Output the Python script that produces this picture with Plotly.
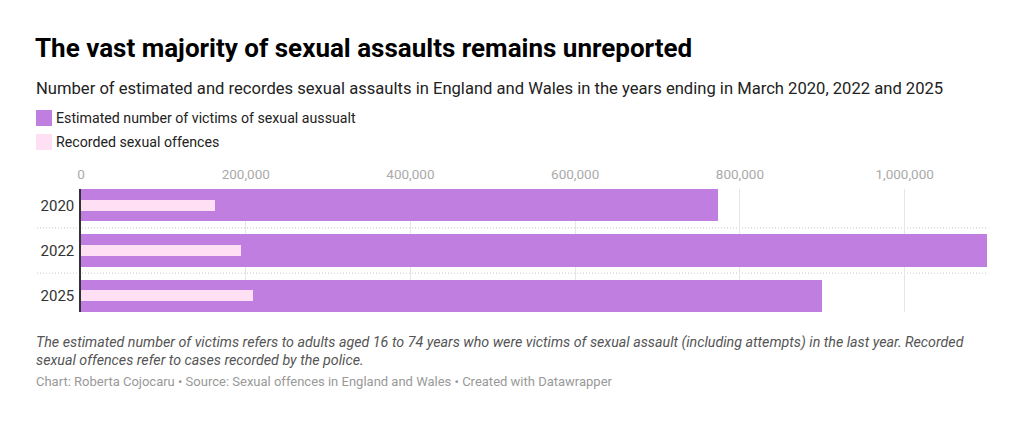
import plotly.graph_objects as go

years = ["2020", "2022", "2025"]
estimated = [773000, 1100000, 900000]
recorded = [163000, 194000, 209000]
series_names = ["Estimated number of victims of sexual aussualt", "Recorded sexual offences"]
x_ticks = [0, 200000, 400000, 600000, 800000, 1000000]

title = "The vast majority of sexual assaults remains unreported"
subtitle = "Number of estimated and recordes sexual assaults in England and Wales in the years ending in March 2020, 2022 and 2025"
note1 = "The estimated number of victims refers to adults aged 16 to 74 years who were victims of sexual assault (including attempts) in the last year. Recorded"
note2 = "sexual offences refer to cases recorded by the police."
source = "Chart: Roberta Cojocaru • Source: Sexual offences in England and Wales • Created with Datawrapper"

PURPLE = "#bf7ee0"
PINK = "#ffdff3"
FONT = "Roboto"

OFF = 8  # page body margin
W, H = 1024 - 2 * OFF, 426 - 2 * OFF
L, R, T, B = 81 - OFF, 987 - OFF, 189 - OFF, 312 - OFF


def px(x):
    return (x - OFF - L) / (R - L)


def py(y):
    return (B - (y - OFF)) / (B - T)


fig = go.Figure()
fig.add_trace(go.Bar(y=years, x=estimated, orientation="h", name=series_names[0],
                     marker=dict(color=PURPLE, line=dict(width=0)), width=0.71,
                     hoverinfo="x+y"))
fig.add_trace(go.Bar(y=years, x=recorded, orientation="h", name=series_names[1],
                     marker=dict(color=PINK, line=dict(width=0)), width=0.25,
                     hoverinfo="x+y"))

shapes = []
for yv in [0.5, 1.5]:
    shapes.append(dict(type="line", xref="paper", yref="y", x0=px(37), x1=1, y0=yv, y1=yv,
                       line=dict(color="#c8c8c8", width=1, dash="1px,2px"), layer="below"))

TX = 34  # text left edge (accounting for annotation padding)
annotations = [
    dict(text=f"<b>{title}</b>", x=px(TX - 1), y=py(48), xref="paper", yref="paper",
         xanchor="left", yanchor="middle", showarrow=False,
         font=dict(family=FONT, size=26, color="#000000")),
    dict(text=subtitle, x=px(TX), y=py(88), xref="paper", yref="paper",
         xanchor="left", yanchor="middle", showarrow=False,
         font=dict(family=FONT, size=16.6, color="#222222")),
    dict(text=f"<i>{note1}</i>", x=px(TX), y=py(342), xref="paper", yref="paper",
         xanchor="left", yanchor="middle", showarrow=False,
         font=dict(family=FONT, size=14.25, color="#555555")),
    dict(text=f"<i>{note2}</i>", x=px(TX), y=py(360), xref="paper", yref="paper",
         xanchor="left", yanchor="middle", showarrow=False,
         font=dict(family=FONT, size=14.25, color="#555555")),
    dict(text=source, x=px(TX), y=py(381), xref="paper", yref="paper",
         xanchor="left", yanchor="middle", showarrow=False,
         font=dict(family=FONT, size=13, color="#999999")),
]

legend_colors = [PURPLE, PINK]
legend_y = [118, 142]
for name, col, ly in zip(series_names, legend_colors, legend_y):
    shapes.append(dict(type="rect", xref="paper", yref="paper",
                       x0=px(36), x1=px(52), y0=py(ly - 8), y1=py(ly + 8),
                       fillcolor=col, line=dict(width=0)))
    annotations.append(dict(text=name, x=px(54), y=py(ly), xref="paper", yref="paper",
                            xanchor="left", yanchor="middle", showarrow=False,
                            font=dict(family=FONT, size=14.2, color="#222222")))

fig.update_layout(
    width=W, height=H,
    margin=dict(l=L, r=W - R, t=T, b=H - B, pad=0),
    paper_bgcolor="white", plot_bgcolor="white",
    barmode="overlay", bargap=0,
    showlegend=False,
    font=dict(family=FONT),
    shapes=shapes, annotations=annotations,
    xaxis=dict(side="top", range=[0, 1100000], tickvals=x_ticks, tickformat=",",
               showgrid=True, gridcolor="#e6e6e6", gridwidth=1, zeroline=False,
               showline=False, ticks="", ticklabelstandoff=6,
               tickfont=dict(family=FONT, size=13.5, color="#aaaaaa")),
    yaxis=dict(type="category", categoryorder="array", categoryarray=years,
               range=[2.36, -0.36], showgrid=False, zeroline=False,
               showline=True, linecolor="#333333", linewidth=1.5, ticks="",
               ticklabelstandoff=2,
               tickfont=dict(family=FONT, size=15, color="#333333")),
)

fig.write_html("out.html")
